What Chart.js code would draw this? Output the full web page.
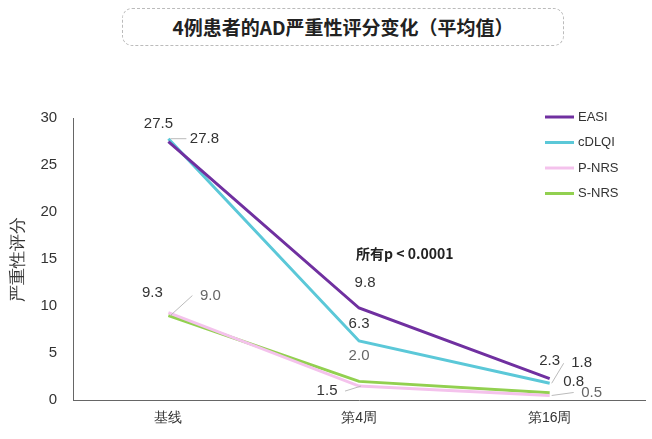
<!DOCTYPE html>
<html><head><meta charset="utf-8">
<script src="https://cdn.jsdelivr.net/npm/chart.js@4"></script>
<style>
body{margin:0;background:#fff;font-family:"Noto Sans CJK SC",Arial,sans-serif}
#wrap{position:relative;width:652px;height:439px}
#title{position:absolute;left:122px;top:8px;width:440px;height:36px;border:1px dashed #bbb;border-radius:10px;
 text-align:center;line-height:36px;font-size:19px;font-weight:bold;color:#222}
canvas{position:absolute;left:0;top:0}
</style></head><body>
<div id="wrap"><div id="title">4例患者的AD严重性评分变化（平均值）</div>
<canvas id="c" width="652" height="439"></canvas></div>
<script>
// categories and series
const weeks = ["基线", "第4周", "第16周"];
const easi = [27.5, 9.8, 2.3];
const cdlqi = [27.8, 6.3, 1.8];
const pnrs = [9.3, 1.5, 0.5];
const snrs = [9.0, 2.0, 0.8];
const yTicks = [0, 5, 10, 15, 20, 25, 30];

// label offsets: [dx, dy, leader, color]
const labelPos = [
  [[-10, -18, false, "#333"], [6, -25, false, "#333"], [0, -18, false, "#333"]],
  [[36, 0, true, "#333"], [0, -17, false, "#333"], [32, -20, true, "#333"]],
  [[-16, -20, false, "#333"], [-32, 5, true, "#333"], [42, -3, true, "#666"]],
  [[42, -20, true, "#666"], [0, -26, false, "#666"], [24, -11, false, "#333"]]
];

const labelsPlugin = {
  id: "labels",
  afterDatasetsDraw(chart) {
    const ctx = chart.ctx;
    ctx.save();
    ctx.font = "15px Arial";
    ctx.textAlign = "center";
    ctx.textBaseline = "middle";
    chart.data.datasets.forEach((ds, i) => {
      chart.getDatasetMeta(i).data.forEach((pt, j) => {
        const [dx, dy, leader, col] = labelPos[i][j];
        const tx = pt.x + dx, ty = pt.y + dy;
        if (leader) {
          ctx.strokeStyle = "#bbb"; ctx.lineWidth = 1;
          ctx.beginPath();
          ctx.moveTo(pt.x + 2, pt.y);
          ctx.lineTo(tx - (dx > 0 ? 18 : -18), ty);
          ctx.stroke();
        }
        ctx.fillStyle = col;
        ctx.fillText(ds.data[j].toFixed(1), tx, ty);
      });
    });
    // legend
    ctx.textAlign = "left";
    ctx.font = "13px Arial";
    chart.data.datasets.forEach((ds, i) => {
      const y = 117 + i * 25.5;
      ctx.strokeStyle = ds.borderColor; ctx.lineWidth = 3;
      ctx.beginPath(); ctx.moveTo(545, y); ctx.lineTo(574, y); ctx.stroke();
      ctx.fillStyle = "#333";
      ctx.fillText(ds.label, 578, y);
    });
    ctx.font = "bold 14px 'Noto Sans CJK SC', Arial";
    ctx.fillStyle = "#222";
    ctx.fillText("所有p < 0.0001", 356, 254);
    ctx.restore();
  }
};

new Chart(document.getElementById("c"), {
  type: "line",
  data: {
    labels: weeks,
    datasets: [
      { label: "EASI", data: easi, borderColor: "#7030a0" },
      { label: "cDLQI", data: cdlqi, borderColor: "#5bc8d8" },
      { label: "P-NRS", data: pnrs, borderColor: "#f4c2ec" },
      { label: "S-NRS", data: snrs, borderColor: "#92d050" }
    ].map(d => Object.assign(d, { borderWidth: 3, pointRadius: 0, tension: 0, fill: false }))
  },
  options: {
    responsive: false,
    animation: false,
    layout: { padding: { top: 118, right: 7, bottom: 2, left: 4 } },
    plugins: { legend: { display: false }, tooltip: { enabled: false } },
    scales: {
      x: {
        offset: true,
        grid: { display: false, drawTicks: false },
        border: { color: "#666" },
        ticks: { color: "#333", font: { size: 14 }, padding: 10 }
      },
      y: {
        min: 0, max: 30,
        afterBuildTicks: s => { s.ticks = yTicks.map(v => ({ value: v })); },
        grid: { display: false },
        border: { color: "#666" },
        ticks: { color: "#333", font: { size: 15 }, padding: 8 },
        title: { display: true, text: "严重性评分", color: "#333", font: { size: 17 } }
      }
    }
  },
  plugins: [labelsPlugin]
});
</script></body></html>
